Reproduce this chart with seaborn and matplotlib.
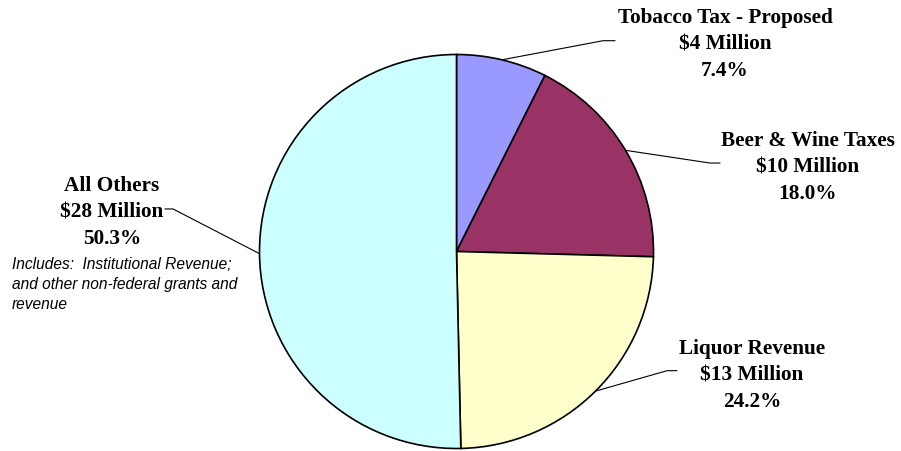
import matplotlib
matplotlib.use("Agg")
import matplotlib.pyplot as plt
import seaborn as sns
import numpy as np

# ---- data ----
categories = ["Tobacco Tax - Proposed", "Beer & Wine Taxes", "Liquor Revenue", "All Others"]
amounts = ["$4 Million", "$10 Million", "$13 Million", "$28 Million"]
percents = [7.4, 18.0, 24.2, 50.3]
colors = ["#9999FF", "#993366", "#FFFFCC", "#CCFFFF"]
note_lines = ["Includes:  Institutional Revenue;", "and other non-federal grants and", "revenue"]

# ---- layout (data units, pie radius = 1) ----
elbows = [(0.744, 1.070), (1.287, 0.449), (1.069, -0.605), (-1.439, 0.216)]
ends = [0.805, 1.338, 1.119, -1.480]
text_pos = [(1.363, 1.055), (1.784, 0.434), (1.500, -0.622), (-1.749, 0.201)]
note_pos = (-2.257, [-0.061, -0.163, -0.264])

sns.set_theme(style="white")
plt.rcParams["font.family"] = ["Liberation Serif", "DejaVu Serif"]

W, H = 901, 452
fig = plt.figure(figsize=(W / 100, H / 100), dpi=100)
cx, cy, r = 456.5, 252.5, 197.0
ax = fig.add_axes([(cx - r) / W, (H - cy - r) / H, 2 * r / W, 2 * r / H])

wedges, _ = ax.pie(percents, colors=colors, startangle=90, counterclock=False,
                   radius=1.0, wedgeprops=dict(edgecolor="black", linewidth=1.2))
ax.set_xlim(-1, 1)
ax.set_ylim(-1, 1)
ax.set_aspect("equal")
ax.axis("off")

dy = 26.5 / r
for w, cat, amt, pct, el, ex, tp in zip(wedges, categories, amounts, percents, elbows, ends, text_pos):
    mid = np.deg2rad((w.theta1 + w.theta2) / 2)
    sx, sy = np.cos(mid), np.sin(mid)
    ax.plot([sx, el[0], ex], [sy, el[1], el[1]], color="black", lw=0.8, clip_on=False)
    for k, s in enumerate([cat, amt, f"{pct:.1f}%"]):
        ax.text(tp[0], tp[1] + (1 - k) * dy, s, ha="center", va="center",
                fontsize=15.3, fontweight="bold", color="black")

for yy, s in zip(note_pos[1], note_lines):
    ax.text(note_pos[0], yy, s, ha="left", va="center", fontsize=11.2, style="italic",
            family=["Liberation Sans", "DejaVu Sans"], color="black")

fig.savefig("out.png", dpi=100, facecolor="white")
